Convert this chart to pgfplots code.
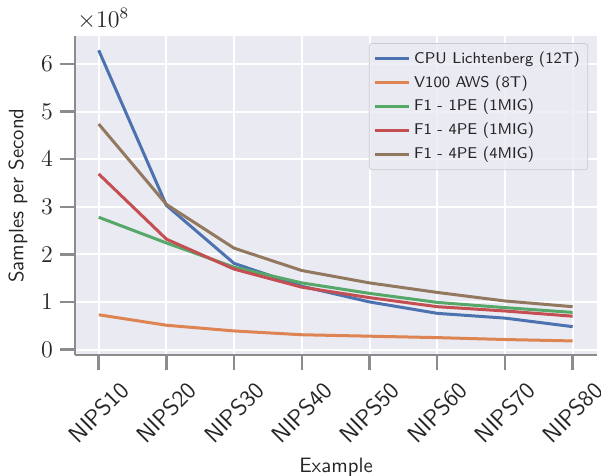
\documentclass[border=0pt]{standalone}
\usepackage{pgfplots}
\pgfplotsset{compat=1.18}
\definecolor{bg}{HTML}{EAEAF2}
\definecolor{spine}{HTML}{8C8C8C}
\definecolor{txt}{HTML}{262626}
\definecolor{c1}{HTML}{4C72B0}
\definecolor{c2}{HTML}{DD8452}
\definecolor{c3}{HTML}{55A868}
\definecolor{c4}{HTML}{C44E52}
\definecolor{c5}{HTML}{937860}
\begin{document}
\begin{tikzpicture}
\begin{axis}[
  name=ax,
  scale only axis, width=261pt, height=159.5pt,
  xmin=-0.35, xmax=7.36, ymin=-0.116e8, ymax=6.59e8,
  axis background/.style={fill=bg},
  axis x line*=bottom, axis y line*=left,
  x axis line style={-}, y axis line style={-},
  axis line style={spine, line width=0.8pt},
  grid=major, major grid style={white, line width=1pt},
  xtick={0,...,7},
  xticklabels={NIPS10,NIPS20,NIPS30,NIPS40,NIPS50,NIPS60,NIPS70,NIPS80},
  ytick={0,1e8,2e8,3e8,4e8,5e8,6e8},
  scaled y ticks=base 10:-8,
  ytick scale label code/.code={$\times10^{8}$},
  every y tick scale label/.style={at={(rel axis cs:0,1)}, anchor=south west, inner sep=0pt, yshift=3pt, xshift=1pt, font=\fontsize{11.5}{13}\selectfont, text=txt},
  tick style={spine, line width=1.2pt}, major tick length=7.5pt, tick align=outside,
  x tick label style={rotate=45, anchor=center, xshift=-15pt, yshift=-15pt, inner sep=0pt, font=\sffamily\fontsize{11.8}{13}\selectfont, text=txt},
  y tick label style={font=\fontsize{12}{14}\selectfont, text=txt},
  xlabel={Example}, ylabel={Samples per Second},
  xlabel style={at={(rel axis cs:0.5,0)}, anchor=north, yshift=-48pt, font=\sffamily\fontsize{10.4}{12}\selectfont, text=txt},
  ylabel style={font=\sffamily\fontsize{10.4}{12}\selectfont, text=txt},
  legend style={at={(0.983,0.978)}, anchor=north east, fill=bg, fill opacity=0.8, text opacity=1, draw=black!20, rounded corners=1.5pt, font=\sffamily\fontsize{7.8}{10}\selectfont, text=txt, row sep=0.6pt, inner sep=2pt},
  legend cell align=left,
  legend image code/.code={\draw[#1, line width=1.5pt] (0pt,0pt) -- (17pt,0pt);},
  every axis plot/.append style={line width=1.5pt},
]
\addplot[c1] coordinates {(0,6.29e8) (1,3.03e8) (2,1.81e8) (3,1.33e8) (4,1.00e8) (5,0.76e8) (6,0.66e8) (7,0.48e8)};
\addlegendentry{CPU Lichtenberg (12T)}
\addplot[c2] coordinates {(0,0.73e8) (1,0.51e8) (2,0.39e8) (3,0.31e8) (4,0.28e8) (5,0.25e8) (6,0.21e8) (7,0.18e8)};
\addlegendentry{V100 AWS (8T)}
\addplot[c3] coordinates {(0,2.78e8) (1,2.24e8) (2,1.73e8) (3,1.40e8) (4,1.18e8) (5,0.99e8) (6,0.88e8) (7,0.78e8)};
\addlegendentry{F1 - 1PE (1MIG)}
\addplot[c4] coordinates {(0,3.69e8) (1,2.32e8) (2,1.69e8) (3,1.31e8) (4,1.09e8) (5,0.90e8) (6,0.81e8) (7,0.70e8)};
\addlegendentry{F1 - 4PE (1MIG)}
\addplot[c5] coordinates {(0,4.74e8) (1,3.05e8) (2,2.13e8) (3,1.66e8) (4,1.40e8) (5,1.20e8) (6,1.02e8) (7,0.90e8)};
\addlegendentry{F1 - 4PE (4MIG)}
\end{axis}
\pgfresetboundingbox
\path[use as bounding box] ([shift={(-37.5pt,-60pt)}]ax.south west) rectangle ([shift={(2pt,18pt)}]ax.north east);
\end{tikzpicture}
\end{document}
